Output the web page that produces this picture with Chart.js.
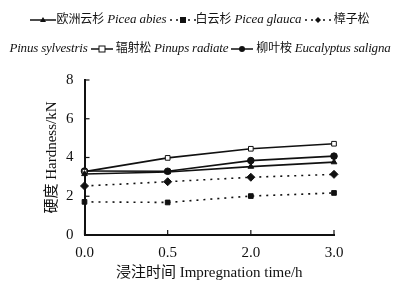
<!DOCTYPE html>
<html>
<head>
<meta charset="utf-8">
<script src="https://cdn.jsdelivr.net/npm/chart.js@4"></script>
<style>
  body { margin: 0; width: 400px; height: 290px; background: #fff; position: relative; overflow: hidden; }
  #wrap { position: absolute; left: 0; top: 0; width: 400px; height: 290px; }
  .leg { position: absolute; left: 0; width: 400px; text-align: center; white-space: nowrap;
         font-family: "Liberation Serif", "Noto Sans CJK SC", serif; font-size: 13px; color: #111; }
  .leg i { font-style: italic; }
  .leg .cn { font-family: "Noto Sans CJK SC", sans-serif; font-size: 12px; }
  .leg svg { vertical-align: middle; }
</style>
</head>
<body>
<div id="wrap"><canvas id="chart-dureza" width="400" height="290"></canvas></div>
<div class="leg" style="top:9px; letter-spacing:-0.1px">
  <svg width="26" height="10"><line x1="0" y1="5" x2="26" y2="5" stroke="#111" stroke-width="1.5"/><polygon points="13,2 16,7 10,7" fill="#111"/></svg><span class="cn">欧洲云杉</span> <i>Picea abies</i>
  <svg width="26" height="10"><line x1="0" y1="5" x2="26" y2="5" stroke="#111" stroke-width="1.5" stroke-dasharray="2,4"/><rect x="10" y="2" width="6" height="6" fill="#111"/></svg><span class="cn">白云杉</span> <i>Picea glauca</i>
  <svg width="26" height="10"><line x1="0" y1="5" x2="26" y2="5" stroke="#111" stroke-width="1.5" stroke-dasharray="2,4"/><polygon points="13,2 16,5 13,8 10,5" fill="#111"/></svg> <span class="cn">樟子松</span>
</div>
<div class="leg" style="top:38px; letter-spacing:-0.2px">
  <i>Pinus sylvestris</i> <svg width="22" height="10"><line x1="0" y1="5" x2="22" y2="5" stroke="#111" stroke-width="1.5"/><rect x="8" y="2" width="6" height="6" fill="#fff" stroke="#111"/></svg> <span class="cn">辐射松</span> <i>Pinups radiate</i>
  <svg width="22" height="10"><line x1="0" y1="5" x2="22" y2="5" stroke="#111" stroke-width="1.5"/><circle cx="11" cy="5" r="3" fill="#111"/></svg> <span class="cn">柳叶桉</span> <i>Eucalyptus saligna</i>
</div>
<script>
// 浸注时间 (h)
const tiempos = ['0.0', '0.5', '2.0', '3.0'];
// dureza kN por especie
const piceaAbies = [3.15, 3.25, 3.53, 3.76];
const piceaGlauca = [1.71, 1.68, 2.01, 2.17];
const pinusSylvestris = [2.53, 2.75, 2.98, 3.13];
const pinusRadiata = [3.27, 3.98, 4.45, 4.71];
const eucalyptus = [3.3, 3.29, 3.84, 4.07];
const yTicks = [0, 2, 4, 6, 8];

const negro = '#111';
const serie = (data, estilo, relleno, dash) => ({
  data, borderColor: negro, borderWidth: 1.6, borderDash: dash || [],
  pointStyle: estilo, pointRadius: estilo === 'rectRot' ? 4 : 3.3,
  pointBackgroundColor: relleno, pointBorderColor: negro, pointBorderWidth: 1, tension: 0
});

// marcas de escala hacia dentro
const marcas = {
  id: 'marcas',
  afterDraw(chart) {
    const { ctx, scales: { x, y }, chartArea } = chart;
    ctx.save();
    ctx.strokeStyle = negro;
    ctx.lineWidth = 1.2;
    tiempos.forEach((t, i) => {
      const px = x.getPixelForValue(i);
      ctx.beginPath(); ctx.moveTo(px, chartArea.bottom); ctx.lineTo(px, chartArea.bottom - 5); ctx.stroke();
    });
    yTicks.forEach(v => {
      const py = y.getPixelForValue(v);
      ctx.beginPath(); ctx.moveTo(chartArea.left, py); ctx.lineTo(chartArea.left + 5, py); ctx.stroke();
    });
    ctx.restore();
  }
};

new Chart(document.getElementById('chart-dureza'), {
  type: 'line',
  data: {
    labels: tiempos,
    datasets: [
      serie(piceaAbies, 'triangle', negro),
      serie(piceaGlauca, 'rect', negro, [2, 5]),
      serie(pinusSylvestris, 'rectRot', negro, [2, 5]),
      serie(pinusRadiata, 'rect', '#fff'),
      serie(eucalyptus, 'circle', negro)
    ]
  },
  options: {
    responsive: false, animation: false,
    layout: { padding: { top: 80, right: 66, left: 45, bottom: 7 } },
    plugins: { legend: { display: false }, tooltip: { enabled: false } },
    scales: {
      x: {
        offset: false,
        grid: { display: false },
        border: { color: negro, width: 2 },
        ticks: { color: negro, padding: 3, font: { family: 'Liberation Serif', size: 15, lineHeight: 1 } },
        title: { display: true, text: '浸注时间 Impregnation time/h', color: negro, padding: { top: 2, bottom: 2 },
                 font: { family: '"Liberation Serif", "Noto Sans CJK SC"', size: 15, lineHeight: 1 } }
      },
      y: {
        min: 0, max: 8,
        afterBuildTicks: s => { s.ticks = yTicks.map(v => ({ value: v })); },
        grid: { display: false },
        border: { color: negro, width: 2 },
        ticks: { color: negro, padding: 3, font: { family: 'Liberation Serif', size: 15 } },
        title: { display: true, text: '硬度 Hardness/kN', color: negro, padding: { top: 0, bottom: 3 },
                 font: { family: '"Liberation Serif", "Noto Sans CJK SC"', size: 15, lineHeight: 1 } }
      }
    }
  },
  plugins: [marcas]
});
</script>
</body>
</html>
